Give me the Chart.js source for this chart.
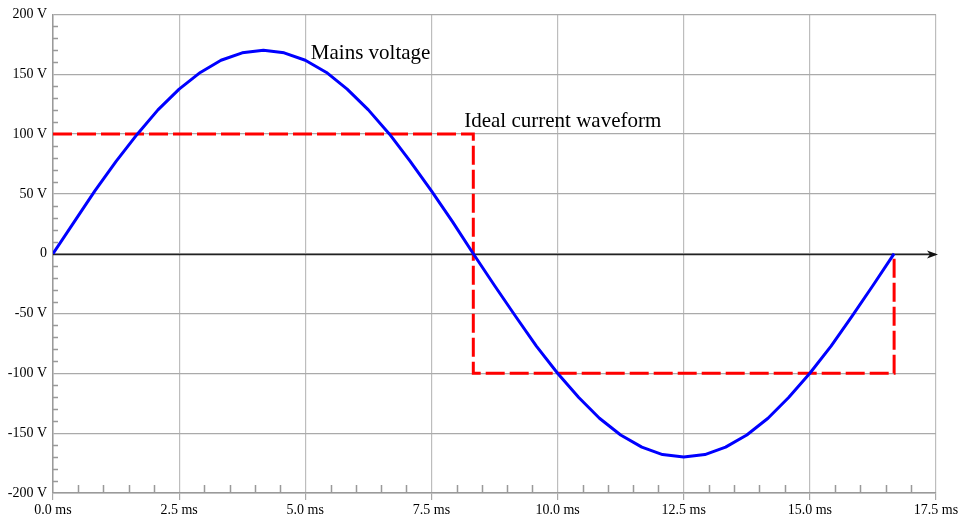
<!DOCTYPE html>
<html>
<head>
<meta charset="utf-8">
<script src="https://cdn.jsdelivr.net/npm/chart.js@4/dist/chart.umd.min.js"></script>
<style>
  html, body { margin: 0; padding: 0; background: #ffffff; }
  canvas { display: block; }
</style>
</head>
<body>
<canvas id="c" width="963" height="520"></canvas>
<script>
// Time axis (ms) samples of the mains voltage
const voltageTimes = [0, 0.42, 0.83, 1.25, 1.67, 2.08, 2.5, 2.92, 3.33, 3.75,
  4.17, 4.58, 5.0, 5.42, 5.83, 6.25, 6.67, 7.08, 7.5, 7.92,
  8.33, 8.75, 9.17, 9.58, 10.0, 10.42, 10.83, 11.25, 11.67, 12.08,
  12.5, 12.92, 13.33, 13.75, 14.17, 14.58, 15.0, 15.42, 15.83, 16.25, 16.67];
const voltageValues = [0, 26.6, 52.5, 77.2, 99.9, 120.2, 137.5, 151.5, 161.7, 167.9,
  170, 167.9, 161.7, 151.5, 137.5, 120.2, 99.9, 77.2, 52.5, 26.6,
  0, -26.6, -52.5, -77.2, -99.9, -120.2, -137.5, -151.5, -161.7, -167.9,
  -170, -167.9, -161.7, -151.5, -137.5, -120.2, -99.9, -77.2, -52.5, -26.6, 0];

// Ideal current waveform (square wave) corners
const currentTimes = [0, 8.33, 8.33, 16.67, 16.67];
const currentValues = [100, 100, -100, -100, 0];

// Axis ticks
const xTickValues = [0, 2.5, 5, 7.5, 10, 12.5, 15, 17.5];
const yTickValues = [-200, -150, -100, -50, 0, 50, 100, 150, 200];

// Text labels in the plot
const labelTexts = ['Mains voltage', 'Ideal current waveform'];
const labelTimes = [5.11, 8.15];
const labelVolts = [163, 105.5];

const serif = '"Liberation Serif", "DejaVu Serif", serif';

const voltageData = voltageTimes.map((t, i) => ({ x: t, y: voltageValues[i] }));
const currentData = currentTimes.map((t, i) => ({ x: t, y: currentValues[i] }));

const decorPlugin = {
  id: 'decor',
  beforeDatasetsDraw(chart) {
    const { ctx, chartArea, scales } = chart;
    const xs = scales.x, ys = scales.y;
    ctx.save();
    // minor ticks
    ctx.strokeStyle = '#999999';
    ctx.lineWidth = 1.5;
    ctx.beginPath();
    for (let v = -200; v <= 200; v += 10) {
      if (v % 50 === 0) continue;
      const py = Math.round(ys.getPixelForValue(v)) + 0.5;
      ctx.moveTo(chartArea.left, py);
      ctx.lineTo(chartArea.left + 5, py);
    }
    for (let k = 0; k <= 35; k++) {
      if (k % 5 === 0) continue;
      const px = Math.round(xs.getPixelForValue(k * 0.5)) + 0.5;
      ctx.moveTo(px, chartArea.bottom);
      ctx.lineTo(px, chartArea.bottom - 8);
    }
    ctx.stroke();
    // zero axis with arrow
    const y0 = Math.round(ys.getPixelForValue(0)) + 0.5;
    const xEnd = chartArea.right + 2;
    ctx.strokeStyle = '#222222';
    ctx.lineWidth = 1.3;
    ctx.beginPath();
    ctx.moveTo(chartArea.left, y0);
    ctx.lineTo(xEnd - 4, y0);
    ctx.stroke();
    ctx.fillStyle = '#111111';
    ctx.beginPath();
    ctx.moveTo(xEnd, y0);
    ctx.lineTo(xEnd - 11, y0 - 4);
    ctx.lineTo(xEnd - 8, y0);
    ctx.lineTo(xEnd - 11, y0 + 4);
    ctx.closePath();
    ctx.fill();
    ctx.restore();
  },
  afterDatasetsDraw(chart) {
    const { ctx, scales } = chart;
    ctx.save();
    ctx.fillStyle = '#000000';
    ctx.font = '21px ' + serif;
    ctx.textAlign = 'left';
    ctx.textBaseline = 'alphabetic';
    labelTexts.forEach((txt, i) => {
      ctx.fillText(txt, scales.x.getPixelForValue(labelTimes[i]), scales.y.getPixelForValue(labelVolts[i]));
    });
    ctx.restore();
  }
};

new Chart(document.getElementById('c'), {
  type: 'line',
  data: {
    datasets: [
      {
        label: 'Mains voltage',
        data: voltageData,
        borderColor: '#0000ff',
        borderWidth: 3,
        pointRadius: 0,
        tension: 0,
        fill: false,
        borderJoinStyle: 'round',
        order: 1
      },
      {
        label: 'Ideal current waveform',
        data: currentData,
        borderColor: '#ff0000',
        borderWidth: 3,
        borderDash: [19, 5],
        pointRadius: 0,
        tension: 0,
        fill: false,
        order: 2
      }
    ]
  },
  options: {
    responsive: false,
    animation: false,
    layout: { padding: { top: 13, right: 27, left: 0, bottom: 0 } },
    plugins: {
      legend: { display: false },
      tooltip: { enabled: false }
    },
    elements: { line: { capBezierPoints: false } },
    scales: {
      x: {
        type: 'linear',
        min: 0,
        max: 17.5,
        afterBuildTicks(scale) { scale.ticks = xTickValues.map(v => ({ value: v })); },
        afterFit(scale) { scale.height = 27; },
        grid: { color: '#bdbdbd', lineWidth: 1.2, drawTicks: true, tickLength: 7, tickColor: '#a8a8a8' },
        border: { color: '#9a9a9a', width: 1.5 },
        ticks: {
          color: '#000000',
          padding: 2,
          maxRotation: 0,
          font: { family: serif, size: 14 },
          callback: v => Number(v).toFixed(1) + ' ms'
        }
      },
      y: {
        type: 'linear',
        min: -200,
        max: 200,
        afterBuildTicks(scale) { scale.ticks = yTickValues.map(v => ({ value: v })); },
        afterFit(scale) { scale.width = 53; },
        grid: { color: '#aaaaaa', lineWidth: 1.2, drawTicks: false },
        border: { color: '#9a9a9a', width: 1.5 },
        ticks: {
          color: '#000000',
          padding: 6,
          font: { family: serif, size: 14 },
          callback: v => (v === 0 ? '0' : v + ' V')
        }
      }
    }
  },
  plugins: [decorPlugin]
});
</script>
</body>
</html>
